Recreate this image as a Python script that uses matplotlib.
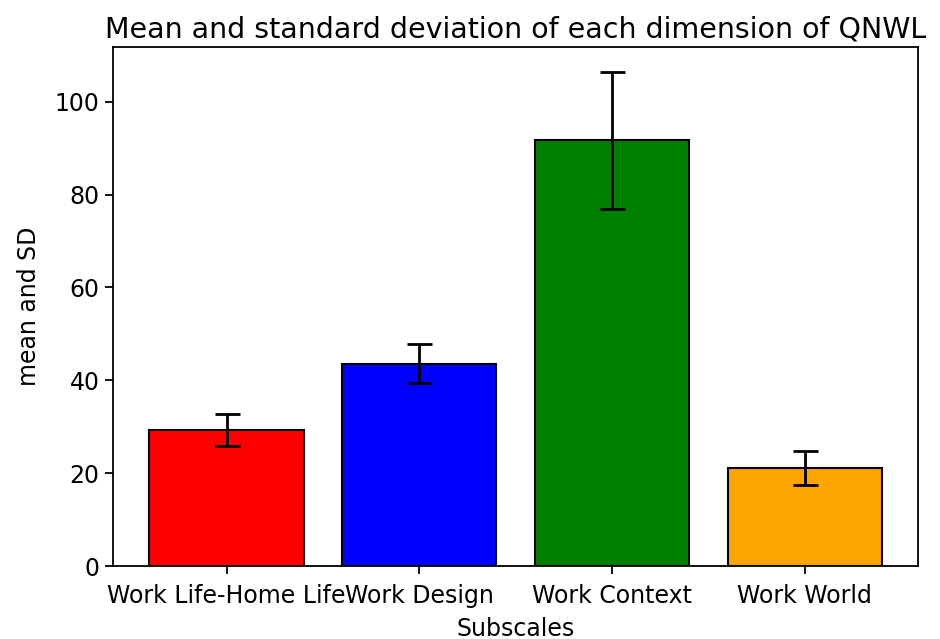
import numpy as np
import matplotlib.pyplot as plt

# data
subscales = ["Work Life-Home Life", "Work Design", "Work Context", "Work World"]
means = [29.3, 43.6, 91.7, 21.1]
sds = [3.5, 4.2, 14.7, 3.6]
colors = ["red", "blue", "green", "orange"]

fig = plt.figure(figsize=(9.4, 6.39), dpi=100)
ax = fig.add_axes([0.120, 0.114, 0.857, 0.812])

ax.bar(subscales, means, yerr=sds, color=colors, edgecolor="black",
       linewidth=1.5, capsize=9, error_kw={"elinewidth": 2, "capthick": 2})

ax.set_title("Mean and standard deviation of each dimension of QNWL", fontsize=20.5, pad=7)
ax.set_xlabel("Subscales", fontsize=17, labelpad=6)
ax.set_ylabel("mean and SD", fontsize=17, labelpad=10)
ax.tick_params(axis="x", pad=7)
ax.tick_params(labelsize=17, length=6, width=1.3)
for s in ax.spines.values():
    s.set_linewidth(1.3)

fig.savefig("out.png", dpi=100)
